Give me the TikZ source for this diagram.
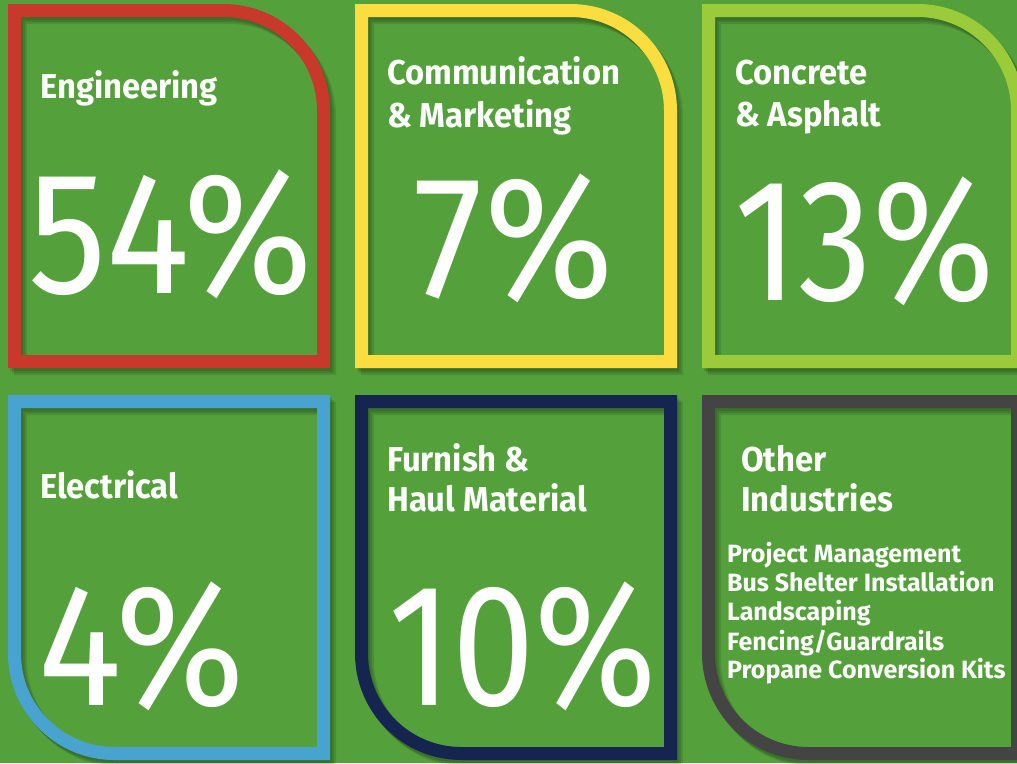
\documentclass[tikz,border=0pt]{standalone}
\usepackage{fontspec}
\setmainfont{Fira Sans}
\newfontfamily\labfont{Fira Sans}[FakeStretch=0.95]
\newfontfamily\itemfont{Fira Sans}[FakeStretch=1.0]
\newfontfamily\numfont{Fira Sans}[FakeStretch=0.9]
\newfontfamily\numfontn{Fira Sans}[FakeStretch=0.85]
\definecolor{bggreen}{RGB}{84,161,60}
\definecolor{cred}{RGB}{200,57,43}
\definecolor{cyellow}{RGB}{252,221,64}
\definecolor{clgreen}{RGB}{155,203,59}
\definecolor{cblue}{RGB}{72,163,208}
\definecolor{cnavy}{RGB}{22,37,80}
\definecolor{cgray}{RGB}{68,68,68}
\tikzset{
  frame/.style={line width=13pt, line join=miter},
  shade1/.style={line width=13pt, line join=miter, draw=black, draw opacity=0.11},
  lab/.style={anchor=base west, inner sep=0pt, text=white, font=\labfont\bfseries\fontsize{34.5}{40}\selectfont},
  num/.style={anchor=base west, inner sep=0pt, text=white, font=\numfont\fontsize{174}{180}\selectfont},
  numn/.style={anchor=base west, inner sep=0pt, text=white, font=\numfontn\fontsize{174}{180}\selectfont},
  item/.style={anchor=base west, inner sep=0pt, text=white, font=\itemfont\bfseries\fontsize{25}{29}\selectfont},
}
% top box: rounded top-right corner (pixel coords, y down)
\newcommand{\topbox}[5]{% l t r b R
  (#1,#4) -- (#1,#2) -- ({#3-#5},#2) .. controls ({#3-#5+0.552*#5},#2) and (#3,{#2+#5-0.552*#5}) .. (#3,{#2+#5}) -- (#3,#4) -- cycle}
\newcommand{\botbox}[5]{% l t r b R
  (#1,#2) -- (#3,#2) -- (#3,#4) -- ({#1+#5},#4) .. controls ({#1+#5-0.552*#5},#4) and (#1,{#4-#5+0.552*#5}) .. (#1,{#4-#5}) -- cycle}
\newcommand{\shadowed}[2]{%
  \foreach \d in {2,4,6} {\draw[shade1, shift={(\d pt,-\d pt-1pt)}] #2;}
  \draw[frame, draw=#1] #2;}
\begin{document}
\begin{tikzpicture}[x=1pt,y=-1pt]
\useasboundingbox (0,0) rectangle (1017,763);
\clip (0,0) rectangle (1017,763);
\fill[bggreen] (0,0) rectangle (1017,763);

% top row
\shadowed{cred}{\topbox{14.5}{10.5}{323.5}{361.5}{100}}
\shadowed{cyellow}{\topbox{361.5}{10.5}{670.5}{361.5}{100}}
\shadowed{clgreen}{\topbox{708.5}{10.5}{1017.5}{361.5}{100}}
% bottom row
\shadowed{cblue}{\botbox{14.5}{401.5}{323.5}{753.5}{100}}
\shadowed{cnavy}{\botbox{361.5}{401.5}{670.5}{753.5}{100}}
\shadowed{cgray}{\botbox{708.5}{401.5}{1017.5}{753.5}{100}}

% labels
\node[lab] (eng) at (40,98) {Engineering};
\node[num] (engp) at (28,293) {54\%};

\node[lab] (com1) at (387,84) {Communication};
\node[lab] (com2) at (387,127) {\& Marketing};
\node[num] (comp) at (413,297) {7\%};

\node[lab] (con1) at (735,84) {Concrete};
\node[lab] (con2) at (735,126) {\& Asphalt};
\node[numn] (conp) at (734,300) {13\%};

\node[lab] (ele) at (40,498) {Electrical};
\node[num] (elep) at (38,705) {4\%};

\node[lab] (fur1) at (387,471) {Furnish \&};
\node[lab] (fur2) at (387,511) {Haul Material};
\node[numn] (furp) at (388,705) {10\%};

\node[lab] (oth1) at (741,471) {Other};
\node[lab] (oth2) at (741,511) {Industries};
\node[item] (i1) at (727,562) {Project Management};
\node[item] (i2) at (727,591) {Bus Shelter Installation};
\node[item] (i3) at (727,620) {Landscaping};
\node[item] (i4) at (727,650) {Fencing/Guardrails};
\node[item] (i5) at (727,678) {Propane Conversion Kits};
\end{tikzpicture}
\end{document}
